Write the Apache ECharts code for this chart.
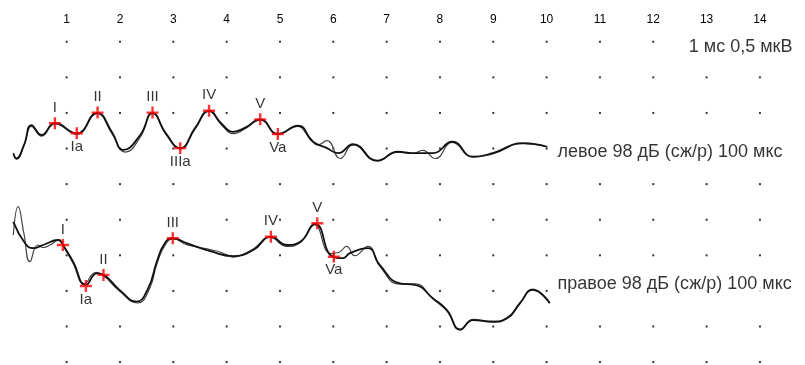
<!DOCTYPE html>
<html>
<head>
<meta charset="utf-8">
<script src="https://cdn.jsdelivr.net/npm/echarts@6/dist/echarts.min.js"></script>
<style>html,body{margin:0;padding:0;background:#fff}#c{width:805px;height:365px}</style>
</head>
<body>
<div id="c"></div>
<script>
// Tick labels (ms)
var tickLabels = ['1','2','3','4','5','6','7','8','9','10','11','12','13','14'];
// Dot grid columns (ms) and rows (divisions from top)
var dotCols = [1,2,3,4,5,6,7,8,9,10,11,12,13,14];
var dotRows = [1,2,3,4,5,6,7,8,9,10];

// Left ear trace, two replications [ms, divisions]
var leftA = [[0,5.87],[0.06,5.72],[0.2,6.1],[0.34,6.66],[0.53,6.38],[0.78,6.71],[1.19,6.43],[1.57,7.0],[1.85,6.46],[2.06,5.96],[2.38,6.38],[2.61,7.0],[2.86,6.43],[3.13,6.01],[3.41,6.58],[3.67,7.06],[3.91,6.69],[4.12,6.47],[4.34,6.58],[4.63,6.82],[4.96,6.41],[5.34,6.64],[5.62,6.19],[5.88,6.01],[6.09,5.87],[6.37,6.12],[6.82,5.66],[7.21,5.91],[7.49,5.87],[7.87,5.87],[8.23,6.19],[8.62,5.77],[8.99,5.87],[9.56,6.15],[10.01,6.05]];
var leftB = [[0,5.85],[0.06,5.7],[0.2,6.08],[0.34,6.62],[0.53,6.35],[0.78,6.7],[1.19,6.4],[1.57,6.98],[1.85,6.42],[2.1,5.9],[2.38,6.32],[2.61,6.98],[2.87,6.38],[3.13,5.99],[3.41,6.55],[3.67,7.04],[3.91,6.65],[4.14,6.42],[4.34,6.55],[4.63,6.8],[4.96,6.4],[5.32,6.62],[5.56,6.3],[5.71,6.1],[5.88,6.22],[6.13,5.72],[6.37,6.1],[6.82,5.65],[7.21,5.9],[7.49,5.86],[7.68,5.95],[7.91,5.72],[8.23,6.17],[8.62,5.76],[8.99,5.85],[9.56,6.14],[10.01,6.05]];

// Right ear trace, two replications
var rightA = [[0,3.94],[0.22,3.34],[0.37,3.2],[0.56,3.29],[0.84,3.43],[0.93,3.29],[1.12,2.82],[1.36,2.17],[1.57,2.49],[1.69,2.45],[1.99,2.03],[2.31,1.7],[2.53,2.08],[2.69,2.82],[2.84,3.34],[2.99,3.48],[3.25,3.34],[3.69,3.12],[4.12,2.98],[4.5,3.15],[4.83,3.52],[5.13,3.29],[5.38,3.38],[5.66,3.88],[5.99,2.96],[6.18,2.92],[6.31,3.06],[6.65,3.2],[6.87,2.73],[7.25,2.21],[7.53,2.17],[7.87,1.79],[8.13,1.46],[8.38,0.92],[8.62,1.18],[8.99,1.13],[9.26,1.23],[9.5,1.65],[9.74,2.03],[10.06,1.65]];
var rightB = [[0,3.57],[0.09,4.37],[0.2,3.6],[0.31,2.82],[0.46,3.29],[0.56,3.22],[0.7,3.3],[0.86,3.44],[0.93,3.28],[1.12,2.78],[1.33,2.2],[1.55,2.52],[1.69,2.43],[1.99,2.0],[2.33,1.66],[2.55,2.05],[2.7,2.8],[2.86,3.32],[3.0,3.46],[3.25,3.3],[3.5,3.22],[3.69,3.16],[3.9,3.08],[4.12,2.95],[4.3,3.02],[4.5,3.18],[4.81,3.5],[5.13,3.25],[5.38,3.36],[5.64,3.86],[5.95,3.05],[6.1,3.08],[6.25,3.25],[6.4,2.99],[6.65,3.25],[6.87,2.7],[7.25,2.19],[7.53,2.2],[7.87,1.77],[8.13,1.44],[8.38,0.9],[8.62,1.2],[8.99,1.15],[9.26,1.25],[9.5,1.67],[9.74,2.05],[10.06,1.67]];

// Peak markers
var leftPeakNames = ['I','Ia','II','III','IIIa','IV','V','Va'];
var leftPeakX = [0.78,1.19,1.58,2.61,3.13,3.67,4.63,4.96];
var leftPeakY = [6.71,6.43,7.01,7.01,6.01,7.06,6.82,6.41];
var leftPeakPos = ['top','bottom','top','top','bottom','top','top','bottom'];

var rightPeakNames = ['I','Ia','II','III','IV','V','Va'];
var rightPeakX = [0.93,1.36,1.69,2.99,4.83,5.7,6.01];
var rightPeakY = [3.29,2.14,2.45,3.48,3.52,3.9,2.96];
var rightPeakPos = ['top','bottom','top','top','top','top','bottom'];

// Annotation texts
var noteTexts = ['1 мс 0,5 мкВ','левое 98 дБ (сж/р) 100 мкс','правое 98 дБ (сж/р) 100 мкс'];
var noteX = [12.6,10.14,10.14];
var noteY = [8.84,5.89,2.18];

var Y_TOP = 10;
var dots = [];
dotCols.forEach(function(c){ dotRows.forEach(function(r){ dots.push([c, Y_TOP - r]); }); });

function peaks(xs, ys, names, pos){
  return xs.map(function(x,i){
    return {value:[x, ys[i]], name:names[i], label:{position:pos[i], distance: pos[i]==='top'?2:0}};
  });
}
var notes = noteX.map(function(x,i){ return {value:[x, noteY[i]], name:noteTexts[i]}; });

var plus = 'path://M4,0H6V4H10V6H6V10H4V6H0V4H4Z';
var FONT = 'Liberation Sans, Arial, sans-serif';

function line(data, color, width, z){
  return {type:'line', data:data, smooth:0.5, symbol:'none', z:z,
    lineStyle:{color:color, width:width}, silent:true, animation:false};
}

var chart = echarts.init(document.getElementById('c'), null, {renderer:'canvas'});
chart.setOption({
  backgroundColor:'#fff',
  animation:false,
  grid:{left:13.33, right:18.4, top:30, bottom:2.9},
  xAxis:{type:'value', min:0, max:14.5, interval:1, position:'top',
    axisLine:{show:false}, axisTick:{show:false}, splitLine:{show:false},
    axisLabel:{margin:4, fontSize:12, color:'#000', fontFamily:FONT,
      formatter:function(v){ var i=Math.round(v); return (Math.abs(v-i)<1e-6 && i>=1 && i<=14) ? tickLabels[i-1] : ''; }}},
  yAxis:{type:'value', min:0, max:9.33, show:false, splitLine:{show:false}},
  series:[
    {type:'scatter', data:dots, symbol:'rect', symbolSize:2, itemStyle:{color:'#000'}, silent:true, z:1},
    line(leftB,'#444',1.2,2), line(leftA,'#111',1.8,3),
    line(rightB,'#444',1.2,2), line(rightA,'#111',1.8,3),
    {type:'scatter', data:peaks(leftPeakX,leftPeakY,leftPeakNames,leftPeakPos), symbol:plus, symbolSize:12,
      itemStyle:{color:'#ff0000'}, z:5,
      label:{show:true, formatter:'{b}', fontSize:15, color:'#000', fontFamily:FONT, backgroundColor:'#fff', padding:[0,1,0,1]}},
    {type:'scatter', data:peaks(rightPeakX,rightPeakY,rightPeakNames,rightPeakPos), symbol:plus, symbolSize:12,
      itemStyle:{color:'#ff0000'}, z:5,
      label:{show:true, formatter:'{b}', fontSize:15, color:'#000', fontFamily:FONT, backgroundColor:'#fff', padding:[0,1,0,1]}},
    {type:'scatter', data:notes, symbolSize:1, itemStyle:{color:'rgba(0,0,0,0)'}, z:6,
      label:{show:true, formatter:'{b}', position:'right', distance:0, fontSize:18, color:'#000',
        fontFamily:FONT, backgroundColor:'#fff', padding:[2,3,2,3]}}
  ]
});
</script>
</body>
</html>
